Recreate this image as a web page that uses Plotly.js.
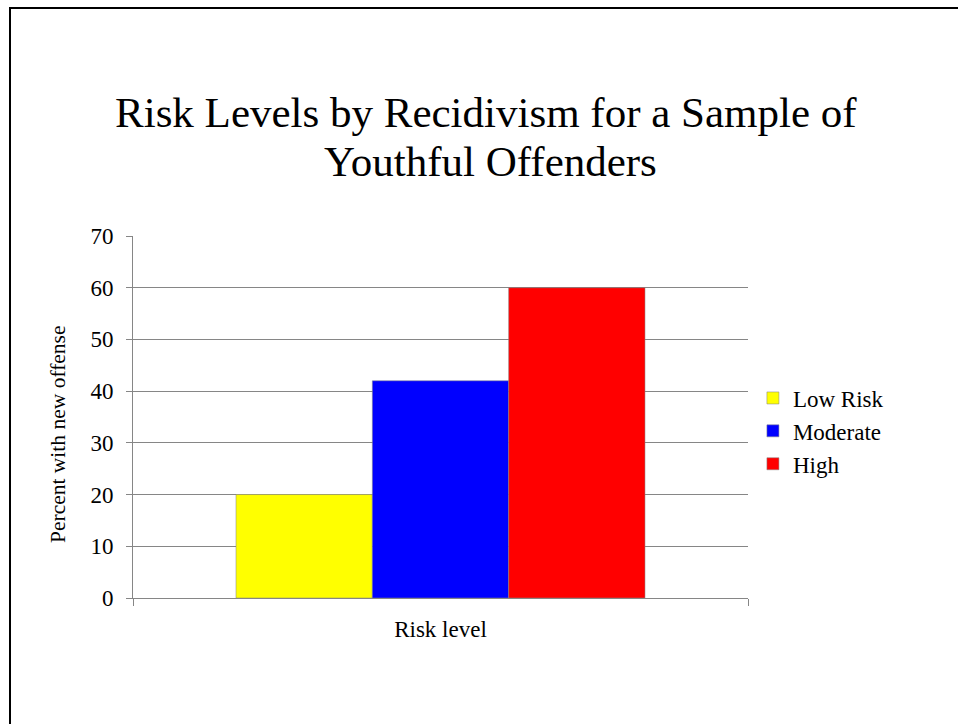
<!DOCTYPE html>
<html>
<head>
<meta charset="utf-8">
<script src="https://cdn.plot.ly/plotly-3.0.1.min.js"></script>
<style>
  html, body { margin: 0; padding: 0; background: #fff; }
  #wrap { position: relative; width: 958px; height: 724px; overflow: hidden; }
  #chart { position: absolute; left: 0; top: 0; width: 958px; height: 724px; }
  #frame {
    position: absolute; left: 9px; top: 7px; width: 960px; height: 730px;
    border-top: 2px solid #000; border-left: 2px solid #000;
    pointer-events: none;
  }
</style>
</head>
<body>
<div id="wrap">
  <div id="chart"></div>
  <div id="frame"></div>
</div>
<script>
// Recidivism rate (percent with a new offense) by assessed risk level
const categories = ['Risk level'];
const seriesNames = ['Low Risk', 'Moderate', 'High'];
const seriesValues = [[20], [42], [60]];
const seriesColors = ['#FFFF00', '#0000FF', '#FF0000'];
const yTicks = [0, 10, 20, 30, 40, 50, 60, 70];

const serif = '"Liberation Serif", "Times New Roman", serif';
const grey = '#868686';

const traces = seriesNames.map((name, i) => ({
  type: 'bar',
  name: name,
  x: categories,
  y: seriesValues[i],
  marker: { color: seriesColors[i], line: { color: 'rgba(134,134,134,0.7)', width: 0.75 } },
  hoverinfo: 'name+y'
}));

const layout = {
  width: 958,
  height: 724,
  margin: { l: 133, r: 210, t: 236, b: 126 },
  paper_bgcolor: '#fff',
  plot_bgcolor: '#fff',
  barmode: 'group',
  bargap: 0.335,
  bargroupgap: 0,
  font: { family: serif, color: '#000' },
  showlegend: true,
  legend: {
    x: 1.008, xanchor: 'left', xref: 'paper',
    y: (598 - 431) / 362, yanchor: 'middle',
    font: { family: serif, size: 23, color: '#000' },
    bgcolor: 'rgba(0,0,0,0)',
    traceorder: 'normal'
  },
  xaxis: {
    type: 'category',
    showticklabels: false,
    showline: true, linecolor: grey, linewidth: 1,
    ticks: 'outside', ticklen: 7, tickcolor: grey, tickson: 'boundaries',
    showgrid: false, zeroline: false,
    title: { text: 'Risk level', font: { family: serif, size: 23, color: '#000' }, standoff: 22 }
  },
  yaxis: {
    range: [0, 70],
    tickvals: yTicks,
    ticktext: yTicks.map(String),
    showline: true, linecolor: grey, linewidth: 1,
    ticks: 'outside', ticklen: 6, tickcolor: grey,
    ticklabelstandoff: 8,
    showgrid: true, gridcolor: grey, gridwidth: 1,
    zeroline: false,
    tickfont: { family: serif, size: 23, color: '#000' }
  },
  annotations: [
    {
      text: 'Risk Levels by Recidivism for a Sample of',
      xref: 'paper', yref: 'paper',
      x: (486 - 133) / 615, y: 1 + (236 - 113) / 362,
      xanchor: 'center', yanchor: 'middle', showarrow: false,
      font: { family: serif, size: 43, color: '#000' }
    },
    {
      text: 'Youthful Offenders',
      xref: 'paper', yref: 'paper',
      x: (490 - 133) / 615, y: 1 + (236 - 161) / 362,
      xanchor: 'center', yanchor: 'middle', showarrow: false,
      font: { family: serif, size: 43, color: '#000' }
    },
    {
      // y-axis title, set slightly below the plot's vertical centre
      text: 'Percent with new offense',
      xref: 'paper', yref: 'paper',
      x: (58 - 133) / 615, y: (598 - 434) / 362,
      xanchor: 'center', yanchor: 'middle', showarrow: false,
      textangle: -90,
      font: { family: serif, size: 21.5, color: '#000' }
    }
  ]
};

Plotly.newPlot('chart', traces, layout, { displayModeBar: false, staticPlot: true });
</script>
</body>
</html>
